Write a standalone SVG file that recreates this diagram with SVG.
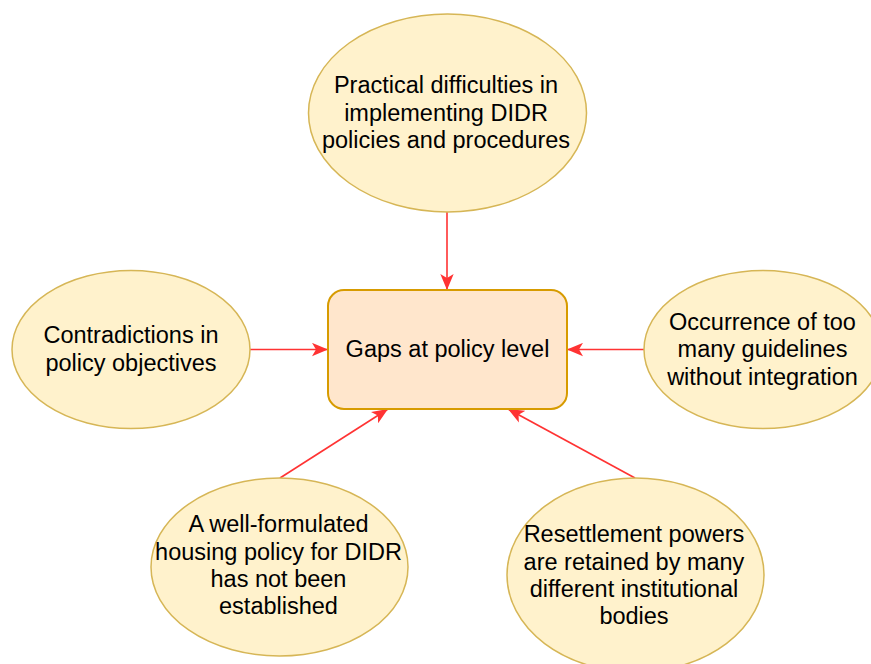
<svg xmlns="http://www.w3.org/2000/svg" width="871" height="664" viewBox="0 0 871 664">
<style>
.ell{fill:#fff2cc;stroke:#d6b656;stroke-width:1.5}
.box{fill:#ffe6cc;stroke:#d79b00;stroke-width:2}
.t{font-family:"Liberation Sans",Arial,Helvetica,sans-serif;font-size:23.5px;fill:#000;text-anchor:middle}
.c{stroke:#ff3333;stroke-width:1.6;fill:none;marker-end:url(#arr)}
</style>
<defs>
<marker id="arr" viewBox="0 0 12 10" refX="12" refY="5" markerWidth="16" markerHeight="14" markerUnits="userSpaceOnUse" orient="auto">
<path d="M0,0 L12,5 L0,10 L3,5 Z" fill="#ff3333"/>
</marker>
</defs>
<rect width="871" height="664" fill="#ffffff"/>
<g id="connectors">
<line class="c" x1="447" y1="212" x2="447" y2="290"/>
<line class="c" x1="250" y1="349.5" x2="328" y2="349.5"/>
<line class="c" x1="644" y1="349.5" x2="567" y2="349.5"/>
<line class="c" x1="280" y1="478" x2="388" y2="409"/>
<line class="c" x1="635" y1="478" x2="508" y2="409"/>
</g>
<g id="top">
<ellipse class="ell" cx="447.5" cy="113" rx="139" ry="99"/>
<text class="t" x="446" y="93">Practical difficulties in</text>
<text class="t" x="446" y="120.5">implementing DIDR</text>
<text class="t" x="446" y="148">policies and procedures</text>
</g>
<g id="center">
<rect class="box" x="328" y="290" width="239" height="119" rx="16" ry="16"/>
<text class="t" x="447.5" y="357">Gaps at policy level</text>
</g>
<g id="left">
<ellipse class="ell" cx="131" cy="349.5" rx="119" ry="79"/>
<text class="t" x="131" y="343">Contradictions in</text>
<text class="t" x="131" y="370.5">policy objectives</text>
</g>
<g id="right">
<ellipse class="ell" cx="763" cy="349.5" rx="119" ry="79"/>
<text class="t" x="762.5" y="329.5">Occurrence of too</text>
<text class="t" x="762.5" y="357">many guidelines</text>
<text class="t" x="762.5" y="384.5">without integration</text>
</g>
<g id="bottomleft">
<ellipse class="ell" cx="279.5" cy="567" rx="128.5" ry="89"/>
<text class="t" x="278.5" y="532">A well-formulated</text>
<text class="t" x="278.5" y="559.5">housing policy for DIDR</text>
<text class="t" x="278.5" y="587">has not been</text>
<text class="t" x="278.5" y="614">established</text>
</g>
<g id="bottomright">
<ellipse class="ell" cx="635.5" cy="575" rx="128.5" ry="97"/>
<text class="t" x="634" y="542">Resettlement powers</text>
<text class="t" x="634" y="569.5">are retained by many</text>
<text class="t" x="634" y="597">different institutional</text>
<text class="t" x="634" y="624">bodies</text>
</g>
</svg>
